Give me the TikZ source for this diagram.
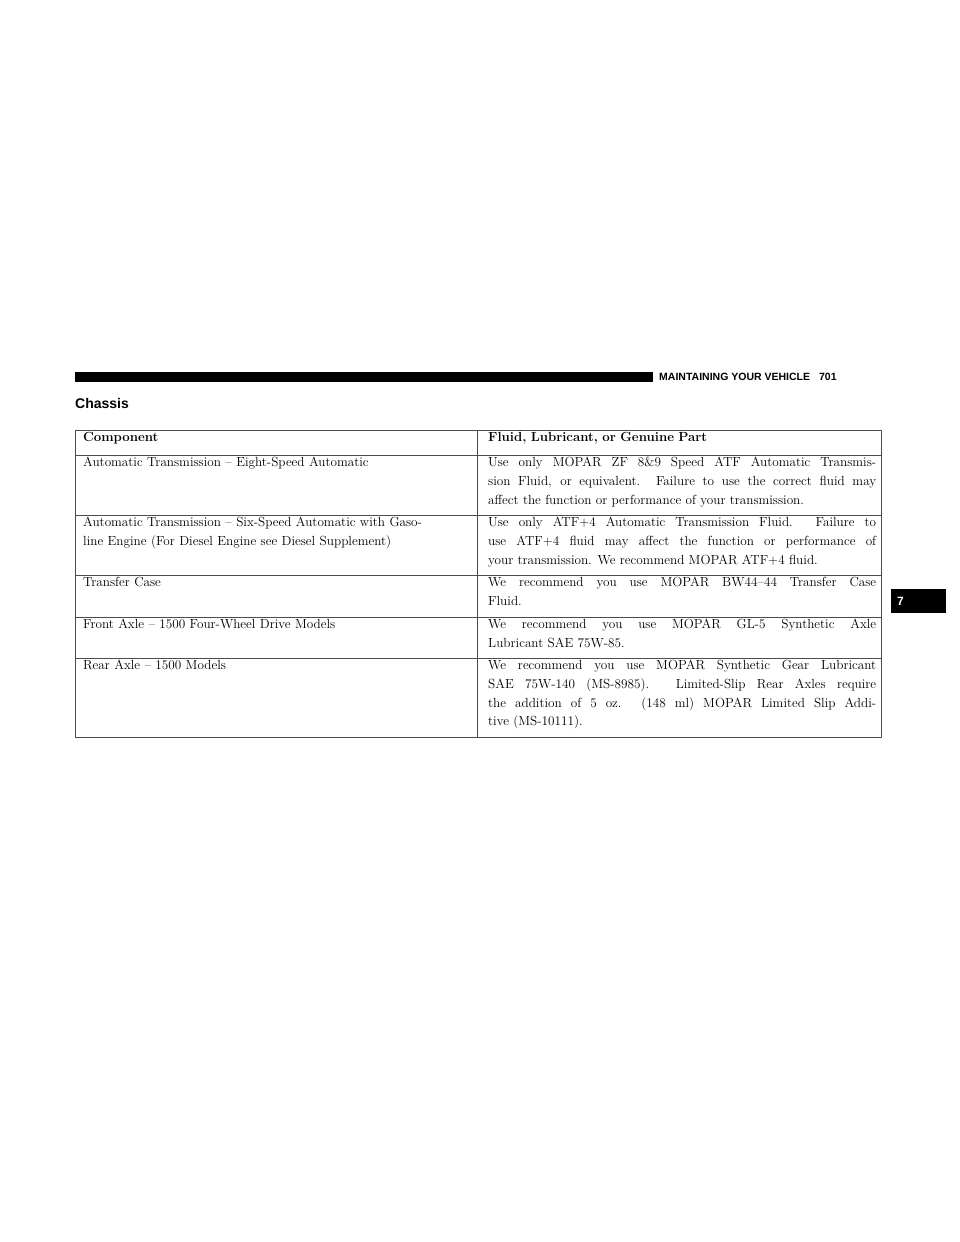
\documentclass[tikz,border=0pt]{standalone}
\usepackage{fontspec}
\setsansfont{Liberation Sans}
\begin{document}
\begin{tikzpicture}
      [x=1pt,y=-1pt
      ,rule/.style={color=black!70,line width=.8pt}
      ,cell/.style={anchor=north west,inner sep=0pt,text width=388pt,
                    font=\fontsize{13.2}{18.7}\selectfont}
      ,lcell/.style={cell,align=left}
      ,rcell/.style={cell,align=justify}
      ]
        \useasboundingbox (0,0) rectangle (960,1242);
        % page head
        \fill (75,372) rectangle (653,382);
        \node[anchor=west,inner sep=0pt,font=\sffamily\bfseries\fontsize{10.5}{12}\selectfont]
            (head) at (659,377) {MAINTAINING YOUR VEHICLE\hspace{9pt}701};
        \node[anchor=west,inner sep=0pt,font=\sffamily\bfseries\fontsize{14}{16}\selectfont]
            (title) at (75,403) {Chassis};
        \fill (891,589) rectangle (946,613);
        \node[anchor=west,inner sep=0pt,text=white,font=\sffamily\bfseries\fontsize{12}{14}\selectfont]
            (tab) at (897,601) {7};

        % table frame
        \draw[rule] (75,430) rectangle (881,737);
        \draw[rule] (477,430) -- (477,737);
        \foreach \y in {455,515,575,617,658}{
            \draw[rule] (75,\y) -- (881,\y);
        }

        % header
        \node[lcell] (hcomp) at (83,432) {\bfseries Component};
        \node[lcell] (hfluid) at (488,432) {\bfseries Fluid, Lubricant, or Genuine Part};

        % rows
        \node[lcell] (comp1) at (83,457) {Automatic Transmission – Eight-Speed Automatic};
        \node[rcell] (fluid1) at (488,457) {Use only MOPAR ZF 8\&9 Speed ATF Automatic Transmis-\linebreak
            sion Fluid, or equivalent. Failure to use the correct fluid may\linebreak
            affect the function or performance of your transmission.};

        \node[lcell] (comp2) at (83,517) {Automatic Transmission – Six-Speed Automatic with Gaso-\\
            line Engine (For Diesel Engine see Diesel Supplement)};
        \node[rcell] (fluid2) at (488,517) {Use only ATF+4 Automatic Transmission Fluid. Failure to\linebreak
            use ATF+4 fluid may affect the function or performance of\linebreak
            your transmission. We recommend MOPAR ATF+4 fluid.};

        \node[lcell] (comp3) at (83,577) {Transfer Case};
        \node[rcell] (fluid3) at (488,577) {We recommend you use MOPAR BW44–44 Transfer Case\linebreak
            Fluid.};

        \node[lcell] (comp4) at (83,619) {Front Axle – 1500 Four-Wheel Drive Models};
        \node[rcell] (fluid4) at (488,619) {We recommend you use MOPAR GL-5 Synthetic Axle\linebreak
            Lubricant SAE 75W-85.};

        \node[lcell] (comp5) at (83,660) {Rear Axle – 1500 Models};
        \node[rcell] (fluid5) at (488,660) {We recommend you use MOPAR Synthetic Gear Lubricant\linebreak
            SAE 75W-140 (MS-8985). Limited-Slip Rear Axles require\linebreak
            the addition of 5 oz. (148 ml) MOPAR Limited Slip Addi-\linebreak
            tive (MS-10111).};
      \end{tikzpicture}
\end{document}
